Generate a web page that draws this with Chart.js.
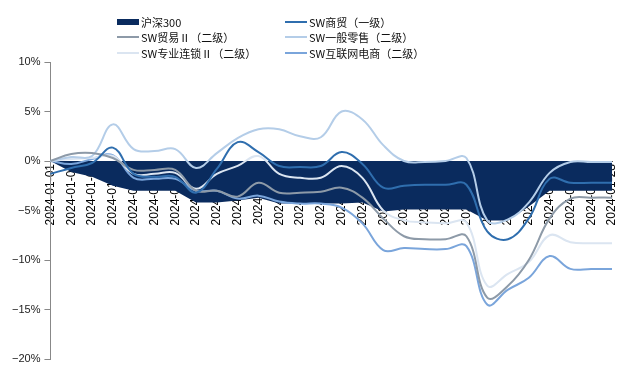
<!DOCTYPE html>
<html lang="zh-CN">
<head>
    <meta charset="UTF-8">
    <title>申万商贸零售指数与沪深300累计涨跌幅</title>
    <script src="https://cdn.jsdelivr.net/npm/chart.js"></script>
    <style>
        body { margin: 0; background: #fff; }
        #wrap { position: relative; width: 617px; height: 365px; }
        #legend {
            position: absolute; left: 117px; top: 14px;
            display: grid; grid-template-columns: 168px auto;
            font: 11px "Noto Sans CJK SC", sans-serif; color: #111;
        }
        .item { display: flex; align-items: center; height: 15.6px; white-space: nowrap; }
        .mark { width: 22px; margin-right: 2px; }
    </style>
</head>
<body>
<div id="wrap">
    <canvas id="chart"></canvas>
    <div id="legend"></div>
</div>

<script>
    // 区间累计涨跌幅（%）
    const labels = [
        '2024-01-01', '2024-01-02', '2024-01-03', '2024-01-04', '2024-01-05', '2024-01-06', '2024-01-07',
        '2024-01-08', '2024-01-09', '2024-01-10', '2024-01-11', '2024-01-12', '2024-01-13', '2024-01-14',
        '2024-01-15', '2024-01-16', '2024-01-17', '2024-01-18', '2024-01-19', '2024-01-20', '2024-01-21',
        '2024-01-22', '2024-01-23', '2024-01-24', '2024-01-25', '2024-01-26', '2024-01-27', '2024-01-28'
    ];
    const hs300 = [0, -1.1, -1.6, -2.5, -3.0, -3.0, -3.0, -4.2, -4.2, -4.0, -3.7, -4.3, -4.3, -4.3,
        -4.3, -4.2, -5.1, -4.9, -4.9, -4.9, -4.9, -6.0, -6.0, -4.6, -3.0, -3.0, -3.0, -3.0];
    const shangmao = [-1.3, -0.7, -0.2, 1.35, -1.3, -1.6, -1.6, -3.2, -0.8, 1.9, 0.9, -0.5, -0.6, -0.5,
        0.9, -0.3, -2.7, -2.5, -2.4, -2.4, -2.4, -7.1, -7.9, -5.8, -1.8, -2.2, -2.2, -2.2];
    const maoyi = [0, 0.7, 0.8, 0.3, -0.9, -0.9, -0.9, -3.0, -3.0, -3.6, -2.2, -3.2, -3.2, -3.1,
        -2.7, -3.7, -5.8, -7.6, -7.9, -7.9, -7.6, -13.8, -12.6, -10.0, -5.8, -3.8, -3.7, -3.7];
    const lingshou = [0, 0.4, 0.5, 3.7, 1.2, 1.0, 1.2, -0.7, 0.8, 2.3, 3.2, 3.2, 2.5, 2.4,
        5.0, 4.2, 1.6, 0, -0.1, 0, 0.3, -6.0, -5.9, -4.2, -1.2, -0.1, -0.1, -0.1];
    const liansuo = [0, 0.2, 0.3, 0.5, -1.3, -1.3, -1.2, -2.8, -1.3, -0.5, 0.5, -1.3, -1.7, -1.7,
        -0.5, -1.7, -5.0, -6.0, -6.2, -6.3, -6.2, -12.6, -11.4, -10.2, -7.5, -8.2, -8.3, -8.3];
    const dianshang = [0, -0.3, 0.2, 0.6, -1.7, -1.8, -1.8, -3.0, -3.0, -3.8, -3.5, -4.1, -4.3, -4.3,
        -4.7, -6.3, -9.0, -8.8, -8.9, -8.9, -8.6, -14.5, -13.0, -11.8, -9.6, -10.9, -10.9, -10.9];

    const names = ['沪深300', 'SW商贸（一级）', 'SW贸易Ⅱ（二级）', 'SW一般零售（二级）', 'SW专业连锁Ⅱ（二级）', 'SW互联网电商（二级）'];
    const values = [hs300, shangmao, maoyi, lingshou, liansuo, dianshang];
    const colors = ['#0a2b5e', '#2f6eae', '#8d9aa8', '#b4cde8', '#dbe5f1', '#7aa5db'];

    function pct(v) {
        return (v < 0 ? '\u2212' + (-v) : v) + '%';
    }

    const datasets = values.map((data, i) => {
        if (i === 0) {
            // 沪深300 画成面积，放在最底层
            return {
                label: names[i], data, order: 10,
                fill: 'origin', backgroundColor: colors[i], borderColor: colors[i],
                borderWidth: 0, tension: 0, pointRadius: 0
            };
        }
        return {
            label: names[i], data, order: i,
            fill: false, borderColor: colors[i], backgroundColor: colors[i],
            borderWidth: 2, tension: 0.4, pointRadius: 0
        };
    });

    new Chart(document.getElementById('chart'), {
        type: 'line',
        data: { labels, datasets },
        options: {
            responsive: true,
            maintainAspectRatio: false,
            animation: false,
            layout: { padding: { top: 62, left: 8, right: 5, bottom: 6 } },
            plugins: { legend: { display: false }, tooltip: { enabled: false } },
            scales: {
                x: {
                    position: { y: 0 },
                    offset: false,
                    grid: { drawOnChartArea: false, drawTicks: false },
                    border: { display: true, color: '#555', width: 1 },
                    ticks: {
                        autoSkip: false, minRotation: 90, maxRotation: 90, padding: 3,
                        color: '#000', font: { family: 'Liberation Sans', size: 12 }
                    },
                    // 横轴压在0线上，不占额外高度
                    afterFit(scale) {
                        scale.height = 0;
                        scale.paddingLeft = 0;
                        scale.paddingRight = 0;
                        scale.paddingTop = 0;
                        scale.paddingBottom = 0;
                    }
                },
                y: {
                    min: -20, max: 10,
                    grid: { drawOnChartArea: false, tickLength: 6, color: '#888' },
                    border: { color: '#888' },
                    ticks: {
                        stepSize: 5, padding: 4, color: '#222',
                        font: { family: 'Liberation Sans', size: 11 },
                        callback: v => pct(v)
                    },
                    afterFit(scale) {
                        scale.paddingTop = 0;
                        scale.paddingBottom = 0;
                    }
                }
            }
        }
    });

    // 图例：两列排布
    const legend = document.getElementById('legend');
    names.forEach((name, i) => {
        const item = document.createElement('div');
        item.className = 'item';
        const mark = document.createElement('span');
        mark.className = 'mark';
        mark.style.height = i === 0 ? '6px' : '2px';
        mark.style.background = colors[i];
        const text = document.createElement('span');
        text.textContent = name;
        item.appendChild(mark);
        item.appendChild(text);
        legend.appendChild(item);
    });
</script>
</body>
</html>
